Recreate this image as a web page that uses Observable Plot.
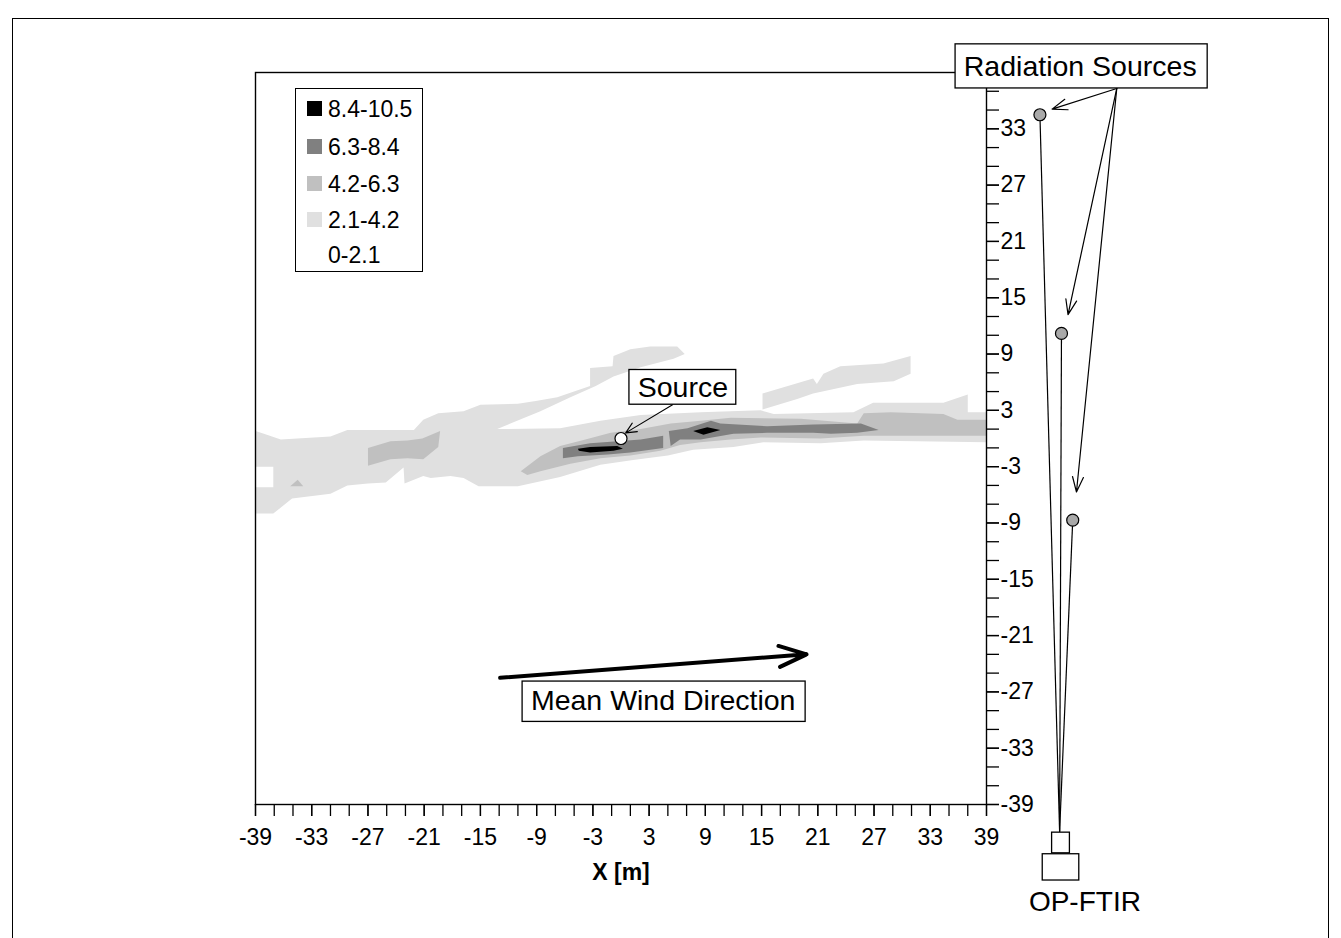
<!DOCTYPE html>
<html><head><meta charset="utf-8">
<script src="https://cdn.jsdelivr.net/npm/d3@7"></script>
<script src="https://cdn.jsdelivr.net/npm/@observablehq/plot@0.6"></script>
<style>
body{margin:0;background:#fff;font-family:"Liberation Sans",Arial,sans-serif;}
#wrap{position:relative;width:1341px;height:938px;overflow:hidden;background:#fff;}
#chart{position:absolute;left:0;top:0;}
#border{position:absolute;left:12px;top:18px;width:1317px;height:960px;border:1.5px solid #000;box-sizing:border-box;pointer-events:none;}
#legend{position:absolute;left:295px;top:88px;width:128px;height:184px;border:1.3px solid #000;background:#fff;box-sizing:border-box;}
#legend .row{position:absolute;left:0;height:28px;line-height:28px;font-size:23px;color:#000;}
#legend .sw{position:absolute;left:11px;top:6px;width:15px;height:15px;}
#legend .lab{position:absolute;left:32px;top:0;white-space:nowrap;}
</style></head>
<body><div id="wrap"><div id="chart"></div><div id="legend"></div><div id="border"></div></div>
<script>
// ---- contour classes (legend order, top to bottom)
const levelLabels = ["8.4-10.5", "6.3-8.4", "4.2-6.3", "2.1-4.2", "0-2.1"];
const levelColors = ["#000000", "#808080", "#c0c0c0", "#e0e0e0", "#ffffff"];

// ---- contour polygons, [x, y] in metres
const band21 = [ // 2.1-4.2
  [[-39,0.8],[-38.1,0.5],[-36.3,-0.1],[-31.0,0.2],[-29.2,0.9],[-22.1,0.9],[-21.1,2.0],[-19.5,2.7],[-16.8,2.9],[-15.0,3.6],[-11.0,3.7],[-9.1,4.0],[-6.8,4.4],[-3.3,5.6],[-3.3,7.5],[-0.9,7.7],[-0.8,8.8],[1.0,9.5],[3.1,9.8],[6.0,9.8],[6.8,9.0],[5.6,8.5],[2.1,7.6],[-0.8,6.6],[-2.7,5.6],[-5.4,4.4],[-8.6,2.9],[-11.8,1.6],[-13.2,1.0],[-6.5,1.1],[-2.2,1.9],[2.1,2.5],[8.5,2.8],[14.9,3.0],[16.3,2.6],[24.8,2.8],[26.9,3.8],[34.4,3.8],[37.0,4.7],[37.0,2.8],[39,2.8],[39,-0.4],[25.9,-0.2],[21.3,-0.5],[15.2,-0.4],[12.0,-0.9],[7.7,-1.2],[5.0,-1.8],[1.3,-2.3],[-2.2,-2.8],[-6.5,-4.1],[-11.0,-5.1],[-15.2,-5.1],[-16.8,-4.2],[-18.2,-4.0],[-20.3,-4.2],[-21.1,-4.0],[-23.1,-4.8],[-23.2,-3.1],[-25.1,-4.7],[-27.0,-4.8],[-29.2,-5.0],[-31.0,-5.9],[-35.1,-6.4],[-37.1,-8.0],[-39,-8.0],[-39,-5.2],[-37.1,-5.2],[-37.1,-3.0],[-39,-3.0]],
  [[15.1,4.8],[20.5,6.4],[20.9,5.8],[21.6,6.9],[23.4,7.7],[28.0,8.0],[30.9,8.8],[30.9,6.9],[29.1,6.1],[25.2,5.8],[20.5,4.8],[18.8,4.2],[15.1,3.1]]
];
const band42 = [ // 4.2-6.3
  [[-27.0,-1.0],[-24.6,-0.3],[-22.8,-0.2],[-21.2,0.0],[-19.3,0.8],[-19.5,-0.9],[-21.1,-2.2],[-22.8,-2.1],[-24.6,-2.2],[-27.0,-2.9]],
  [[-35.3,-5.1],[-34.5,-4.4],[-33.9,-5.1]],
  [[-10.7,-3.5],[-8.6,-1.9],[-6.5,-0.8],[-3.8,-0.1],[-1.1,0.6],[2.1,1.0],[5.3,1.6],[8.5,1.9],[11.7,2.2],[19.2,2.1],[25.2,1.6],[25.9,2.7],[28.8,2.8],[34.4,2.6],[35.9,2.0],[39,2.0],[39,0.3],[29.8,0.3],[25.9,0.3],[21.3,0.0],[14.9,0.1],[11.7,-0.1],[8.5,-0.4],[6.3,-0.7],[4.2,-1.3],[1.0,-1.8],[-2.2,-2.1],[-5.4,-2.7],[-8.6,-3.5],[-10.0,-3.9]]
];
const band63 = [ // 6.3-8.4
  [[-6.2,-1.0],[-3.3,-0.5],[-0.4,-0.3],[2.1,-0.1],[4.5,0.3],[4.5,-1.0],[1.0,-1.5],[-1.4,-1.7],[-4.6,-1.9],[-6.2,-2.1]],
  [[5.1,0.8],[7.1,1.1],[9.6,1.9],[10.6,1.6],[15.6,1.3],[20.5,1.5],[25.6,1.6],[27.5,0.9],[25.2,0.6],[22.4,0.5],[20.5,0.6],[15.6,0.6],[12.0,0.5],[8.5,-0.1],[6.3,-0.1],[5.3,-0.8]]
];
const band84 = [ // 8.4-10.5
  [[-4.6,-1.1],[-3.3,-0.9],[-0.4,-0.8],[0.2,-1.1],[-0.8,-1.3],[-3.3,-1.5],[-4.5,-1.3]],
  [[7.7,0.8],[9.2,1.2],[10.6,0.9],[8.8,0.4]]
];

// ---- point features
const sourcePoint = [[0, 0]];
const radSources = [[44.7, 34.5], [47.0, 11.2], [48.2, -8.7]];
const ftirPoint = [46.8, -41.9];

// ---- axis ticks
const xTickLabels = [-39,-33,-27,-21,-15,-9,-3,3,9,15,21,27,33,39];
const yTickLabels = [-39,-33,-27,-21,-15,-9,-3,3,9,15,21,27,33];
const minorTicks = d3.range(-39, 40, 2);

// ---- annotations (data coordinates)
const labelTexts = {source: "Source", rad: "Radiation Sources", wind: "Mean Wind Direction", ftir: "OP-FTIR", xlabel: "X [m]"};
const sourceBox = {x1: 0.9, x2: 12.3, y1: 3.6, y2: 7.3, tx: 6.6, ty: 5.4};
const sourceArrow = [{x1: 5.5, y1: 3.6, x2: 0.5, y2: 0.6}];
const radBox = {x1: 35.7, x2: 62.6, y1: 37.3, y2: 42.0, tx: 49.0, ty: 39.6};
const radArrowStart = [52.9, 37.3];
const radArrowTips = [[46.0, 35.1], [47.7, 13.2], [48.6, -5.7]];
const windArrow = [{x1: -12.9, y1: -25.5, x2: 19.8, y2: -23.0}];
const windBox = {x1: -10.5, x2: 19.7, y1: -30.2, y2: -25.9, tx: 4.5, ty: -28.0};
const ftirBoxes = [{x1: 46.0, x2: 47.9, y1: -44.2, y2: -42.0}, {x1: 45.0, x2: 48.9, y1: -47.1, y2: -44.3}];
const ftirText = {tx: 49.5, ty: -49.4};

function rows(polys) {
  const out = [];
  polys.forEach((p, i) => p.forEach(([x, y]) => out.push({poly: i, x, y})));
  return out;
}
const fills = [[band21, levelColors[3]], [band42, levelColors[2]], [band63, levelColors[1]], [band84, levelColors[0]]];

const FONT = "Liberation Sans, Arial, sans-serif";
const chart = Plot.plot({
  width: 1341, height: 938,
  marginLeft: 255, marginRight: 355, marginTop: 72, marginBottom: 134,
  x: {domain: [-39, 39]},
  y: {domain: [-39, 39]},
  style: {fontFamily: FONT, fontSize: "23px", color: "#000", background: "transparent", overflow: "visible"},
  marks: [
    ...fills.map(([polys, c]) => Plot.line(rows(polys), {x: "x", y: "y", z: "poly", fill: c, stroke: "none", curve: "linear"})),
    Plot.frame({stroke: "#000", strokeWidth: 1.4}),
    Plot.axisX(minorTicks, {anchor: "bottom", tickSize: 12, strokeWidth: 1.3, tickFormat: () => "", label: null}),
    Plot.axisX(xTickLabels, {anchor: "bottom", tickSize: 12, tickPadding: 12, strokeWidth: 1.3, tickFormat: d => String(d), fontSize: 23, label: null}),
    Plot.axisY(minorTicks, {anchor: "right", tickSize: 12, strokeWidth: 1.3, tickFormat: () => "", label: null}),
    Plot.axisY(yTickLabels, {anchor: "right", tickSize: 12, tickPadding: 2, strokeWidth: 1.3, tickFormat: d => String(d), fontSize: 23, label: null}),
    Plot.text([labelTexts.xlabel], {frameAnchor: "bottom", dy: 75, fontWeight: "bold", fontSize: 23, fill: "#000"}),
    // radiation source beams
    Plot.link(radSources, {x1: d => d[0], y1: d => d[1], x2: () => ftirPoint[0], y2: () => ftirPoint[1], stroke: "#000", strokeWidth: 1.2}),
    Plot.dot(radSources, {x: d => d[0], y: d => d[1], r: 6, fill: "#a9a9a9", stroke: "#000", strokeWidth: 1.2}),
    Plot.arrow(radArrowTips, {x1: () => radArrowStart[0], y1: () => radArrowStart[1], x2: d => d[0], y2: d => d[1], stroke: "#000", strokeWidth: 1.2, headLength: 20, headAngle: 40}),
    Plot.rect([radBox], {x1: "x1", x2: "x2", y1: "y1", y2: "y2", fill: "#fff", stroke: "#000", strokeWidth: 1.3}),
    Plot.text([radBox], {x: "tx", y: "ty", text: () => labelTexts.rad, fontSize: 28.5, fill: "#000"}),
    // OP-FTIR instrument
    Plot.rect(ftirBoxes, {x1: "x1", x2: "x2", y1: "y1", y2: "y2", fill: "#fff", stroke: "#000", strokeWidth: 1.3}),
    Plot.text([ftirText], {x: "tx", y: "ty", text: () => labelTexts.ftir, fontSize: 28, fill: "#000"}),
    // source label
    Plot.arrow(sourceArrow, {x1: "x1", y1: "y1", x2: "x2", y2: "y2", stroke: "#000", strokeWidth: 1.1, headLength: 16, headAngle: 50}),
    Plot.dot(sourcePoint, {x: d => d[0], y: d => d[1], r: 6, fill: "#fff", stroke: "#000", strokeWidth: 1.2}),
    Plot.rect([sourceBox], {x1: "x1", x2: "x2", y1: "y1", y2: "y2", fill: "#fff", stroke: "#000", strokeWidth: 1.3}),
    Plot.text([sourceBox], {x: "tx", y: "ty", text: () => labelTexts.source, fontSize: 28.5, fill: "#000"}),
    // wind
    Plot.arrow(windArrow, {x1: "x1", y1: "y1", x2: "x2", y2: "y2", stroke: "#000", strokeWidth: 4, headLength: 11, headAngle: 42}),
    Plot.rect([windBox], {x1: "x1", x2: "x2", y1: "y1", y2: "y2", fill: "#fff", stroke: "#000", strokeWidth: 1.3}),
    Plot.text([windBox], {x: "tx", y: "ty", text: () => labelTexts.wind, fontSize: 28.5, fill: "#000"})
  ]
});
document.getElementById("chart").appendChild(chart);

// legend
const legend = document.getElementById("legend");
const rowCenters = [20, 58, 95, 131, 166];
levelLabels.forEach((lab, i) => {
  const row = document.createElement("div");
  row.className = "row";
  row.style.top = (rowCenters[i] - 14) + "px";
  const sw = document.createElement("div");
  sw.className = "sw";
  sw.style.background = levelColors[i];
  const t = document.createElement("div");
  t.className = "lab";
  t.textContent = lab;
  row.appendChild(sw); row.appendChild(t);
  legend.appendChild(row);
});
</script>
</body></html>
